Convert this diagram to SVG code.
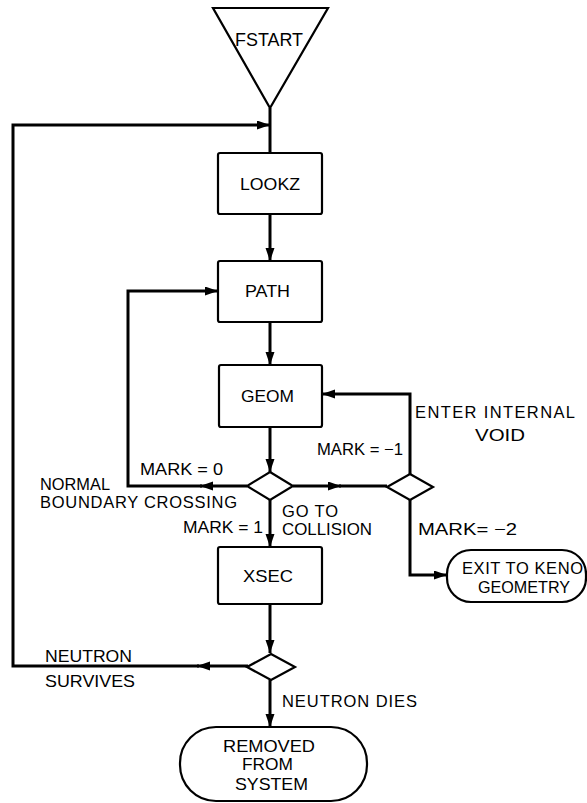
<svg xmlns="http://www.w3.org/2000/svg" width="587" height="803" viewBox="0 0 587 803">
<defs>
<marker id="ah" markerUnits="userSpaceOnUse" markerWidth="14" markerHeight="10" refX="13" refY="4.5" orient="auto">
<path d="M0,0 L13,4.5 L0,9 z" fill="#000"/>
</marker>
<style>
.n{fill:#fff;stroke:#000;stroke-width:2.2}
.c{fill:none;stroke:#000;stroke-width:3}
.a{marker-end:url(#ah)}
text{font-family:"Liberation Sans",Arial,sans-serif;font-size:16.5px;fill:#000}
</style>
</defs>
<rect width="587" height="803" fill="#fff"/>
<g id="connectors">
<path class="c" d="M270,108 V153"/>
<path class="c a" d="M248,666 H197"/>
<path class="c a" d="M199,666 H13 V125 H270"/>
<path class="c a" d="M270,214 V261"/>
<path class="c a" d="M270,322 V365"/>
<path class="c a" d="M270,427 V472"/>
<path class="c a" d="M247,486 H200"/>
<path class="c a" d="M202,486 H128 V291 H218"/>
<path class="c a" d="M293,486 H341"/>
<path class="c" d="M339,486 H387"/>
<path class="c a" d="M410,474 V394 H322"/>
<path class="c a" d="M410,500 V575 H447"/>
<path class="c a" d="M270,500 V547"/>
<path class="c a" d="M270,604 V653"/>
<path class="c a" d="M270,680 V727"/>
</g>
<g id="labels">
<text x="140" y="475" textLength="83" lengthAdjust="spacingAndGlyphs">MARK = 0</text>
<text x="40" y="490" textLength="70" lengthAdjust="spacingAndGlyphs">NORMAL</text>
<text x="40" y="508" textLength="197" lengthAdjust="spacing">BOUNDARY  CROSSING</text>
<text x="183" y="533" textLength="80" lengthAdjust="spacingAndGlyphs">MARK = 1</text>
<text x="282" y="517" textLength="56" lengthAdjust="spacing">GO  TO</text>
<text x="282" y="535" textLength="90" lengthAdjust="spacingAndGlyphs">COLLISION</text>
<text x="418" y="535" textLength="99" lengthAdjust="spacingAndGlyphs">MARK= −2</text>
<text x="415" y="418" textLength="160" lengthAdjust="spacing">ENTER  INTERNAL</text>
<text x="475" y="441" textLength="50" lengthAdjust="spacingAndGlyphs">VOID</text>
<text x="317" y="455" textLength="86" lengthAdjust="spacingAndGlyphs">MARK = −1</text>
<text x="45" y="662" textLength="87" lengthAdjust="spacingAndGlyphs">NEUTRON</text>
<text x="45" y="687" textLength="90" lengthAdjust="spacingAndGlyphs">SURVIVES</text>
<text x="282" y="707" textLength="135" lengthAdjust="spacing">NEUTRON  DIES</text>
</g>
<g id="fstart">
<path class="n" d="M213,8 L328,8 L270,108 z"/>
<text x="235" y="46" textLength="68" lengthAdjust="spacingAndGlyphs" style="font-size:18.5px">FSTART</text>
</g>
<g id="lookz">
<rect class="n" x="218" y="153" width="104" height="61" rx="2"/>
<text x="240" y="190" textLength="60" lengthAdjust="spacingAndGlyphs">LOOKZ</text>
</g>
<g id="path">
<rect class="n" x="218" y="261" width="104" height="61" rx="2"/>
<text x="245" y="297" textLength="45" lengthAdjust="spacingAndGlyphs">PATH</text>
</g>
<g id="geom">
<rect class="n" x="219" y="365" width="103" height="62" rx="2"/>
<text x="241" y="402" textLength="53" lengthAdjust="spacingAndGlyphs">GEOM</text>
</g>
<g id="decision1">
<path class="n" d="M270,472 L293,486 L270,500 L247,486 z"/>
</g>
<g id="decision2">
<path class="n" d="M410,474 L433,487 L410,500 L387,487 z"/>
</g>
<g id="exit">
<rect class="n" x="447" y="550" width="139" height="52" rx="24"/>
<text x="462" y="574" textLength="121" lengthAdjust="spacing">EXIT TO KENO</text>
<text x="478" y="593" textLength="92" lengthAdjust="spacingAndGlyphs">GEOMETRY</text>
</g>
<g id="xsec">
<rect class="n" x="218" y="547" width="104" height="57" rx="2"/>
<text x="243" y="582" textLength="50" lengthAdjust="spacingAndGlyphs">XSEC</text>
</g>
<g id="decision3">
<path class="n" d="M271,654 L295,667 L271,680 L247,667 z"/>
</g>
<g id="removed">
<rect class="n" x="180" y="727" width="187" height="74" rx="36"/>
<text x="223" y="752" textLength="92" lengthAdjust="spacingAndGlyphs">REMOVED</text>
<text x="242" y="770" textLength="51" lengthAdjust="spacingAndGlyphs">FROM</text>
<text x="235" y="790" textLength="73" lengthAdjust="spacingAndGlyphs">SYSTEM</text>
</g>
</svg>
